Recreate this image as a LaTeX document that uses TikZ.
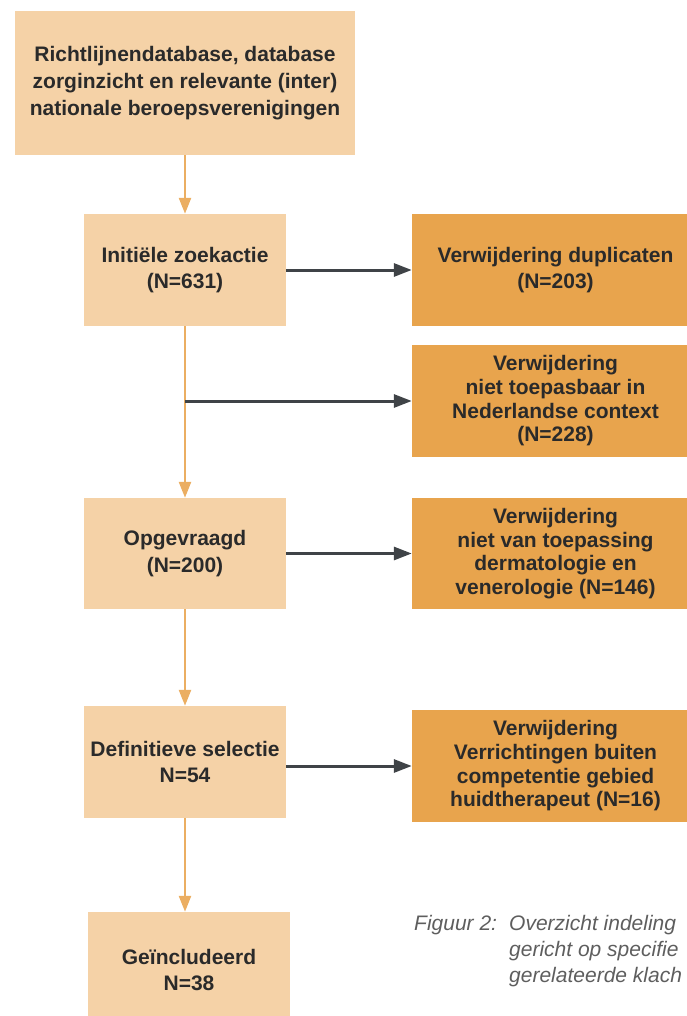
\documentclass[tikz,border=0pt]{standalone}
\usepackage{fontspec}
\setmainfont{Liberation Sans}
\usetikzlibrary{arrows.meta}
\definecolor{lightbox}{HTML}{F5D2A7}
\definecolor{darkbox}{HTML}{E8A44D}
\definecolor{orangeline}{HTML}{EBAE62}
\definecolor{darkline}{HTML}{3F4347}
\definecolor{txt}{HTML}{2A2A2A}
\definecolor{captxt}{HTML}{5E5E5E}
\tikzset{
  lbox/.style={fill=lightbox, draw=none, inner sep=0pt, text=txt, align=center,
    font=\fontsize{21}{26.5}\selectfont\bfseries},
  dbox/.style={fill=darkbox, draw=none, inner sep=0pt, text=txt, align=center,
    minimum width=287pt, minimum height=112pt,
    font=\fontsize{21}{23.7}\selectfont\bfseries},
  captext/.style={inner sep=0pt, text=captxt, font=\fontsize{21}{26.3}\selectfont\itshape},
  oarrow/.style={draw=orangeline, line width=2.5pt, -{Triangle[width=12pt,length=16pt]}},
  darrow/.style={draw=darkline, line width=3pt, -{Triangle[width=13pt,length=18pt]}},
}
\begin{document}
\begin{tikzpicture}[x=1pt,y=-1pt]
\useasboundingbox (0,0) rectangle (687,1016);
\clip (0,0) rectangle (687,1016);
\node[lbox, minimum width=340pt, minimum height=144pt, font=\fontsize{21}{26.7}\selectfont\bfseries] (src) at (185,83)
  {Richtlijnendatabase, database\\zorginzicht en relevante (inter)\\nationale beroepsverenigingen};
\node[lbox, minimum width=202pt, minimum height=112pt] (init) at (185,270) {Initiële zoekactie\\(N=631)};
\node[lbox, minimum width=202pt, minimum height=111pt] (opg) at (185,553.5) {Opgevraagd\\(N=200)};
\node[lbox, minimum width=202pt, minimum height=112pt] (def) at (185,762) {Definitieve selectie\\N=54};
\node[lbox, minimum width=202pt, minimum height=116pt] (inc) at (189,970) {Geïncludeerd\\N=38};

\node[dbox, font=\fontsize{21}{26.7}\selectfont\bfseries] (r1) at (555.5,270) {Verwijdering duplicaten\\(N=203)};
\node[dbox] (r2) at (555.5,401) {Verwijdering\\niet toepasbaar in\\Nederlandse context\\(N=228)};
\node[dbox, minimum height=111pt] (r3) at (555.5,553.5) {Verwijdering\\niet van toepassing\\dermatologie en\\venerologie (N=146)};
\node[dbox] (r4) at (555.5,766) {Verwijdering\\Verrichtingen buiten\\competentie gebied\\huidtherapeut (N=16)};

\draw[oarrow] (src.south) -- (init.north);
\draw[oarrow] (init.south) -- (opg.north);
\draw[oarrow] (opg.south) -- (def.north);
\draw[oarrow] (def.south) -- (def.south |- inc.north);

\coordinate (branch) at (init.south |- r2.west);
\draw[darrow] (init.east) -- (r1.west);
\draw[darrow] (branch) -- (r2.west);
\draw[darrow] (opg.east) -- (r3.west);
\draw[darrow] (def.east |- r4.west) -- (r4.west);

\node[captext, anchor=base west] (capa) at (414,930) {Figuur 2:};
\node[captext, anchor=base west] (capb) at (509,930)
  {\begin{tabular}[t]{@{}l@{}}Overzicht indeling\\gericht op specifie\\gerelateerde klach\end{tabular}};
\end{tikzpicture}
\end{document}
